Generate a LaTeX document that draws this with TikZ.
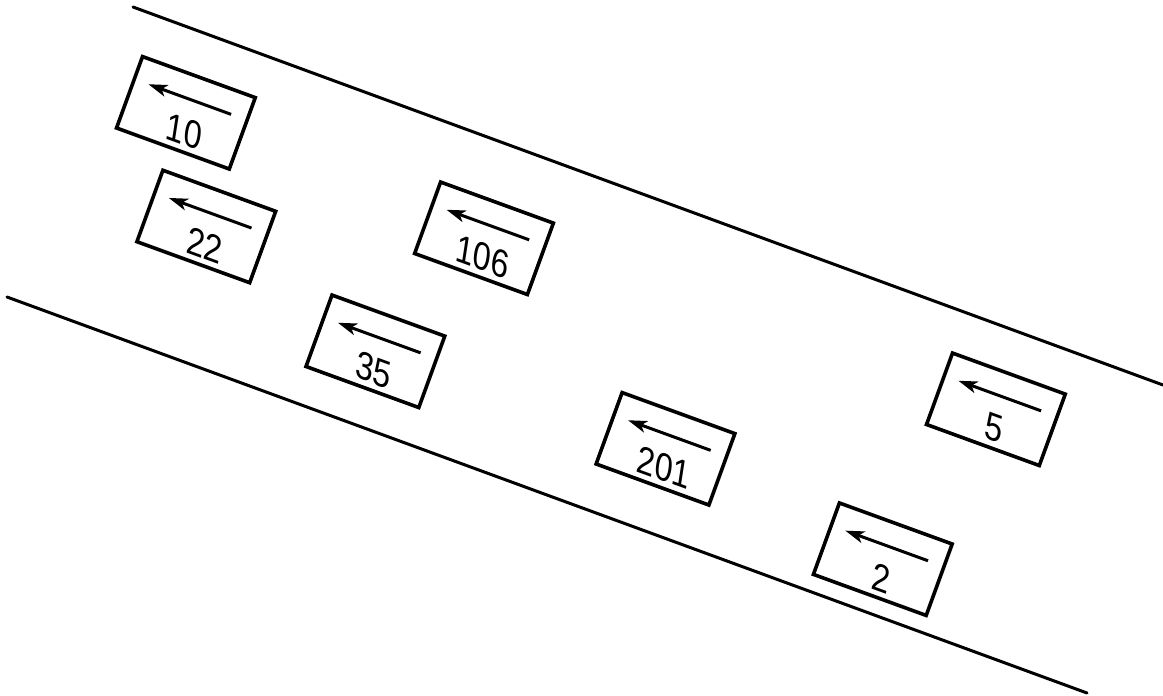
\documentclass[tikz,border=0pt]{standalone}
\usepackage{fontspec}
\setmainfont{Liberation Sans}
\usetikzlibrary{arrows.meta}
\tikzset{
  road/.style={line width=3pt, line cap=round},
  signbox/.style={draw, line width=3.6pt, minimum width=120pt, minimum height=76pt, inner sep=0pt},
  signnum/.style={font=\fontsize{38}{38}\selectfont, inner sep=0pt, xslant=-0.2, xscale=0.88},
  signarrow/.style={line width=3pt, -{Stealth[length=19pt,width=12pt,inset=5pt]}},
}
\newcommand\roadsign[4]{%
  \begin{scope}[shift={(#2,#3)}, rotate=-20, transform shape]
    \node[signbox] (#1) at (0,0) {};
    \coordinate (#1-tail) at (43pt,14pt);
    \coordinate (#1-tip) at (-45pt,14pt);
    \node[signnum] (#1-num) at (5pt,-18pt) {#4};
    \draw[signarrow] (#1-tail) -- (#1-tip);
  \end{scope}}
\begin{document}
\begin{tikzpicture}[x=1pt,y=-1pt]
  \useasboundingbox (0,0) rectangle (1163,696);
  \coordinate (r1a) at (133,7);
  \coordinate (r1b) at (1163,385);
  \coordinate (r2a) at (7,297);
  \coordinate (r2b) at (1087,693);
  \draw[road] (r1a) -- (r1b);
  \draw[road] (r2a) -- (r2b);
  \roadsign{s10}{185.9}{112.8}{10}
  \roadsign{s22}{206.3}{226.5}{22}
  \roadsign{s106}{484}{238.3}{106}
  \roadsign{s35}{375.4}{351.3}{35}
  \roadsign{s201}{665.5}{448.8}{201}
  \roadsign{s2}{882.8}{559.2}{2}
  \roadsign{s5}{995.9}{409.3}{5}
\end{tikzpicture}
\end{document}
